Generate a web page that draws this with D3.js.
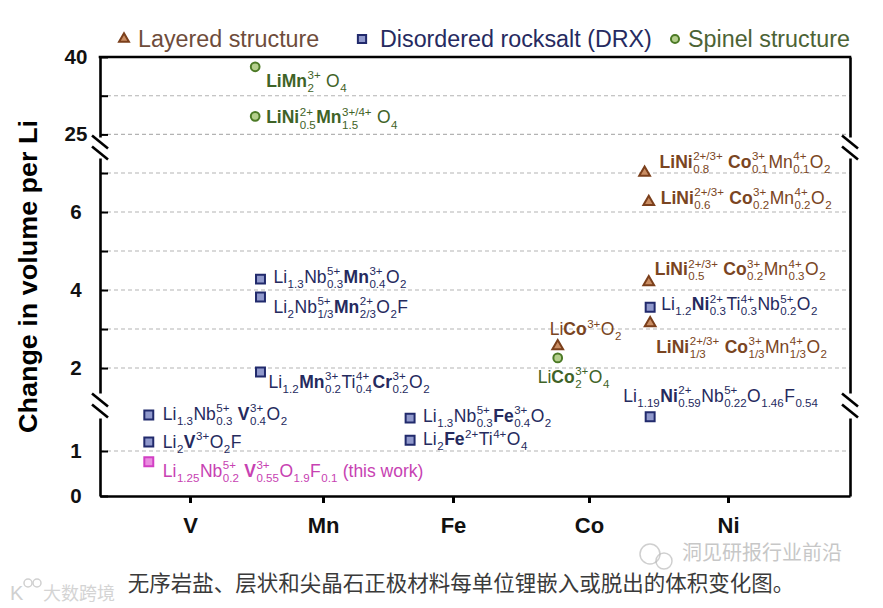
<!DOCTYPE html>
<html>
<head>
<meta charset="utf-8">
<script src="https://cdn.jsdelivr.net/npm/d3@7"></script>
<style>
  body { margin: 0; background: #fff; }
  svg text { font-family: "Liberation Sans", Arial, Helvetica, sans-serif; }
</style>
</head>
<body>
<svg id="chart" width="883" height="608"></svg>
<script>
// ---- data ----
const elements = ["V", "Mn", "Fe", "Co", "Ni"];
const structures = ["Layered structure", "Disordered rocksalt (DRX)", "Spinel structure"];

// formula markup: *bold*, _{sub}, ^{sup}
const compounds = [
  "*LiMn*_{2}^{3+} O_{4}",
  "*LiNi*_{0.5}^{2+}*Mn*_{1.5}^{3+/4+} O_{4}",
  "Li_{1.3}Nb_{0.3}^{5+}*Mn*_{0.4}^{3+}O_{2}",
  "Li_{2}Nb_{1/3}^{5+}*Mn*_{2/3}^{2+}O_{2}F",
  "Li_{1.2}*Mn*_{0.2}^{3+}Ti_{0.4}^{4+}*Cr*_{0.2}^{3+}O_{2}",
  "Li_{1.3}Nb_{0.3}^{5+} *V*_{0.4}^{3+}O_{2}",
  "Li_{2}*V*^{3+}O_{2}F",
  "Li_{1.25}Nb_{0.2}^{5+} *V*_{0.55}^{3+}O_{1.9}F_{0.1} (this work)",
  "Li_{1.3}Nb_{0.3}^{5+}*Fe*_{0.4}^{3+}O_{2}",
  "Li_{2}*Fe*^{2+}Ti^{4+}O_{4}",
  "Li*Co*^{3+}O_{2}",
  "Li*Co*_{2}^{3+}O_{4}",
  "*LiNi*_{0.8}^{2+/3+} *Co*_{0.1}^{3+}Mn_{0.1}^{4+}O_{2}",
  "*LiNi*_{0.6}^{2+/3+} *Co*_{0.2}^{3+}Mn_{0.2}^{4+}O_{2}",
  "*LiNi*_{0.5}^{2+/3+} *Co*_{0.2}^{3+}Mn_{0.3}^{4+}O_{2}",
  "Li_{1.2}*Ni*_{0.3}^{2+}Ti_{0.3}^{4+}Nb_{0.2}^{5+}O_{2}",
  "*LiNi*_{1/3}^{2+/3+} *Co*_{1/3}^{3+}Mn_{1/3}^{4+}O_{2}",
  "Li_{1.19}*Ni*_{0.59}^{2+}Nb_{0.22}^{5+}O_{1.46}F_{0.54}"
];
// 0 layered, 1 DRX, 2 spinel, 3 this work
const compoundType = [2, 2, 1, 1, 1, 1, 1, 3, 1, 1, 0, 2, 0, 0, 0, 1, 0, 1];
// position along the element axis (V = 0 ... Ni = 4)
const compoundPos = [0.49, 0.49, 0.53, 0.53, 0.53, -0.31, -0.31, -0.31, 1.67, 1.67,
                     2.77, 2.77, 3.40, 3.43, 3.43, 3.44, 3.44, 3.44];
// change in volume per Li
const compoundValue = [38.1, 28.5, 4.28, 3.82, 1.90, 1.80, 1.20, 0.76, 1.73, 1.24,
                       2.56, 2.26, 7.01, 6.26, 4.20, 3.56, 3.15, 1.76];
// which piece of the broken axis the point sits on
const compoundPanel = ["top", "top", "mid", "mid", "mid", "low", "low", "low", "low", "low",
                       "mid", "mid", "mid", "mid", "mid", "mid", "mid", "low"];

const ticksTop = [25, 32.5, 40];
const ticksMid = [2, 3, 4, 5, 6, 7];
const ticksLow = [0, 1];
const tickLabels = ["0", "1", "2", "4", "6", "25", "40"];

// label placement relative to its marker
const labelDx = [11, 11, 13, 13, 8, 14, 14, 14, 13, 13, -8, -20, 15, 12, 6, 11, 6, -27];
const labelDy = [20, 7, 4, 16, 16, 5, 6, 15, 4, 5, -11, 25, -5, 2, -7, 3, 30, -15];

// ---- layout ----
const plotL = 100, plotR = 850, plotT = 57, plotB = 496;
const svg = d3.select("#chart");

// element axis: the figure's element ticks are not quite evenly spaced
const x = d3.scaleLinear()
  .domain([-0.677, 0, 1, 2, 3, 4, 4.878])
  .range([plotL, 190, 323, 453, 589, 728, plotR]);
const y = {
  top: d3.scaleLinear().domain([24.5, 40]).range([137, plotT]),
  mid: d3.scaleLinear().domain([1.36, 7.385]).range([393, 158]),
  low: d3.scaleLinear().domain([0, 1.733]).range([plotB, 418])
};
const panelTicks = { top: ticksTop, mid: ticksMid, low: ticksLow };

const typeStyle = [
  { shape: d3.symbolTriangle, size: 50, fill: "#c98d63", stroke: "#7b3f1b", text: "#7a4522" },
  { shape: d3.symbolSquare, size: 80, fill: "#9099cc", stroke: "#212a6c", text: "#252a5e" },
  { shape: d3.symbolCircle, size: 60, fill: "#b4cf8c", stroke: "#4c7a26", text: "#3f6327" },
  { shape: d3.symbolSquare, size: 80, fill: "#ea8de0", stroke: "#d23fc4", text: "#c742b2" }
];

// grid lines
Object.keys(y).forEach(p => {
  svg.append("g").selectAll("line")
    .data(panelTicks[p].filter(v => v !== 0 && v !== 40))
    .join("line")
    .attr("x1", plotL).attr("x2", plotR)
    .attr("y1", d => y[p](d)).attr("y2", d => y[p](d))
    .attr("stroke", "#b3b3b3").attr("stroke-width", 1.1)
    .attr("stroke-dasharray", "4,3");
});

// left axis pieces + right border pieces
Object.keys(y).forEach(p => {
  const ax = svg.append("g")
    .attr("transform", `translate(${plotL},0)`)
    .call(d3.axisLeft(y[p]).tickValues(panelTicks[p])
      .tickSizeInner(-8).tickSizeOuter(0).tickPadding(0)
      .tickFormat(v => tickLabels.includes(String(v)) ? String(v) : ""));
  ax.select(".domain").attr("stroke", "#000").attr("stroke-width", 2.6);
  ax.selectAll(".tick line").attr("stroke", "#000").attr("stroke-width", 2);
  ax.selectAll(".tick text")
    .attr("x", -24).attr("text-anchor", "middle")
    .attr("font-size", 20.5).attr("font-weight", "bold").attr("fill", "#111")
    .style("font-family", '"Liberation Sans", Arial, sans-serif');

  const rb = svg.append("g")
    .attr("transform", `translate(${plotR},0)`)
    .call(d3.axisRight(y[p]).tickValues([]).tickSizeOuter(0));
  rb.select(".domain").attr("stroke", "#000").attr("stroke-width", 2.6);
});

// top border
svg.append("line")
  .attr("x1", plotL - 1.3).attr("x2", plotR + 1.3)
  .attr("y1", plotT).attr("y2", plotT)
  .attr("stroke", "#000").attr("stroke-width", 2.6);

// x axis
const xa = svg.append("g")
  .attr("transform", `translate(0,${plotB})`)
  .call(d3.axisBottom(x).tickValues(d3.range(elements.length))
    .tickFormat(i => elements[i]).tickSizeInner(7).tickSizeOuter(0).tickPadding(14));
xa.select(".domain").attr("stroke", "#000").attr("stroke-width", 2.6);
xa.selectAll(".tick line").attr("stroke", "#000").attr("stroke-width", 3);
xa.selectAll(".tick text")
  .attr("font-size", 22).attr("font-weight", "bold").attr("fill", "#111")
  .style("font-family", '"Liberation Sans", Arial, sans-serif');

// axis break marks
const breakY = [(y.top.range()[0] + y.mid.range()[1]) / 2, (y.mid.range()[0] + y.low.range()[1]) / 2];
[plotL, plotR].forEach(bx => {
  breakY.forEach(by => {
    [-5.5, 5.5].forEach(off => {
      svg.append("line")
        .attr("x1", bx - 8).attr("y1", by + off - 6.5)
        .attr("x2", bx + 8).attr("y2", by + off + 6.5)
        .attr("stroke", "#000").attr("stroke-width", 2.6);
    });
  });
});

// y axis title
svg.append("text")
  .attr("transform", `translate(37,${(120 + 433) / 2}) rotate(-90)`)
  .attr("text-anchor", "middle")
  .attr("font-size", 25).attr("font-weight", "bold").attr("fill", "#000")
  .attr("textLength", 313).attr("lengthAdjust", "spacingAndGlyphs")
  .text("Change in volume per Li");

// formula drawing
function parseFormula(s) {
  const items = [];
  let bold = false, buf = "", i = 0;
  const flush = () => { if (buf) items.push({ text: buf, bold }); buf = ""; };
  const group = () => { const j = s.indexOf("}", i); const g = s.slice(i + 1, j); i = j + 1; return g; };
  while (i < s.length) {
    const c = s[i];
    if (c === "*") { flush(); bold = !bold; i++; }
    else if (c === "_" || c === "^") {
      flush();
      const sc = { sub: "", sup: "" };
      while (s[i] === "_" || s[i] === "^") {
        const k = s[i] === "_" ? "sub" : "sup"; i++;
        sc[k] = group();
      }
      items.push(sc);
    } else { buf += c; i++; }
  }
  flush();
  return items;
}

function drawFormula(g, s, fs, color) {
  let cx = 0;
  parseFormula(s).forEach(it => {
    if (it.text !== undefined) {
      const t = g.append("text").attr("x", cx).attr("y", 0)
        .attr("font-size", fs).attr("font-weight", it.bold ? "bold" : "normal")
        .attr("fill", color).text(it.text.replace(/ /g, "\u00a0"));
      cx += t.node().getComputedTextLength();
    } else {
      let w = 0;
      if (it.sup) {
        const t = g.append("text").attr("x", cx + 0.5).attr("y", -fs * 0.44)
          .attr("font-size", fs * 0.66).attr("fill", color).text(it.sup);
        w = Math.max(w, t.node().getComputedTextLength());
      }
      if (it.sub) {
        const t = g.append("text").attr("x", cx + 0.5).attr("y", fs * 0.3)
          .attr("font-size", fs * 0.66).attr("fill", color).text(it.sub);
        w = Math.max(w, t.node().getComputedTextLength());
      }
      cx += w + 1;
    }
  });
}

// markers and labels
const pts = compounds.map((c, i) => ({
  formula: c, type: compoundType[i],
  px: x(compoundPos[i]), py: y[compoundPanel[i]](compoundValue[i]),
  dx: labelDx[i], dy: labelDy[i]
}));

svg.append("g").selectAll("path")
  .data(pts).join("path")
  .attr("transform", d => `translate(${d.px},${d.py})`)
  .attr("d", d => d3.symbol(typeStyle[d.type].shape, typeStyle[d.type].size)())
  .attr("fill", d => typeStyle[d.type].fill)
  .attr("stroke", d => typeStyle[d.type].stroke)
  .attr("stroke-width", 2);

pts.forEach(d => {
  const g = svg.append("g").attr("transform", `translate(${d.px + d.dx},${d.py + d.dy})`);
  drawFormula(g, d.formula, 17.5, typeStyle[d.type].text);
});

// legend
const legendMarkX = [124, 362, 675];
const legendTextX = [138, 380, 688];
const legendTextColor = ["#6e4c3b", "#262a60", "#4c6335"];
structures.forEach((s, i) => {
  const st = typeStyle[i];
  svg.append("path")
    .attr("transform", `translate(${legendMarkX[i]},39)`)
    .attr("d", d3.symbol(st.shape, st.size * 0.85)())
    .attr("fill", st.fill).attr("stroke", st.stroke).attr("stroke-width", 2);
  svg.append("text")
    .attr("x", legendTextX[i]).attr("y", 47)
    .attr("font-size", 23.3).attr("fill", legendTextColor[i])
    .text(s);
});

// caption and watermarks
svg.append("text")
  .attr("x", 461).attr("y", 591).attr("text-anchor", "middle")
  .attr("font-size", 21.5).attr("fill", "#3a3a3a")
  .style("font-family", '"Noto Sans CJK SC", sans-serif')
  .text("无序岩盐、层状和尖晶石正极材料每单位锂嵌入或脱出的体积变化图。");

svg.append("text")
  .attr("x", 682).attr("y", 560)
  .attr("font-size", 20).attr("fill", "#9a9a9a").attr("opacity", 0.55)
  .style("font-family", '"Noto Sans CJK SC", sans-serif')
  .text("洞见研报行业前沿");
svg.append("circle").attr("cx", 650).attr("cy", 554).attr("r", 10)
  .attr("fill", "none").attr("stroke", "#bbb").attr("stroke-width", 1.5).attr("opacity", 0.7);
svg.append("circle").attr("cx", 664).attr("cy", 561).attr("r", 8)
  .attr("fill", "none").attr("stroke", "#bbb").attr("stroke-width", 1.5).attr("opacity", 0.7);

svg.append("text")
  .attr("x", 10).attr("y", 600)
  .attr("font-size", 20).attr("fill", "#d0d0d0")
  .text("K");
svg.append("circle").attr("cx", 28).attr("cy", 583).attr("r", 4)
  .attr("fill", "none").attr("stroke", "#d0d0d0").attr("stroke-width", 1.5);
svg.append("circle").attr("cx", 37).attr("cy", 583).attr("r", 4)
  .attr("fill", "none").attr("stroke", "#d0d0d0").attr("stroke-width", 1.5);
svg.append("text")
  .attr("x", 43).attr("y", 600)
  .attr("font-size", 18).attr("fill", "#d4d4d4")
  .style("font-family", '"Noto Sans CJK SC", sans-serif')
  .text("大数跨境");
</script>
</body>
</html>
